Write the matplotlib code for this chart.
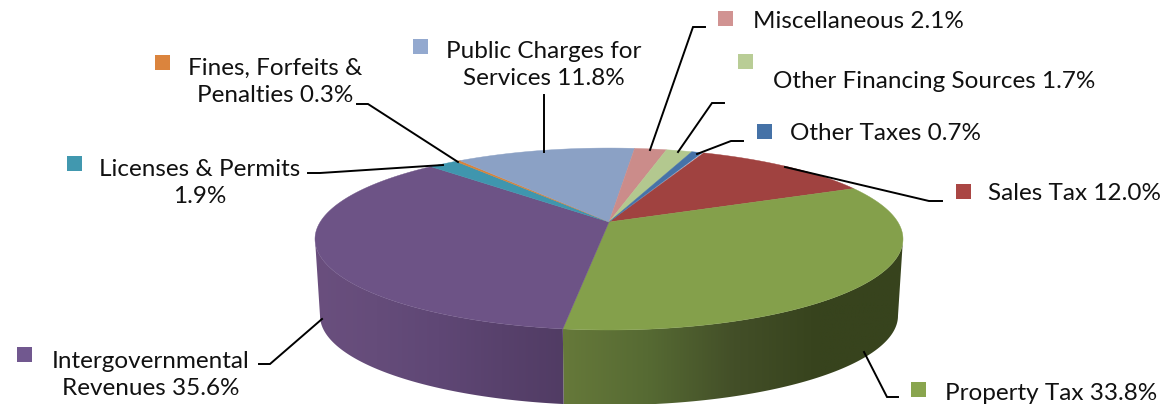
import numpy as np
import matplotlib
matplotlib.use("Agg")
import matplotlib.pyplot as plt
from matplotlib.patches import Polygon, Rectangle
from matplotlib.colors import LinearSegmentedColormap

names = ["Sales Tax", "Property Tax", "Intergovernmental\nRevenues", "Licenses & Permits\n",
         "Fines, Forfeits &\nPenalties", "Public Charges for\nServices", "Miscellaneous",
         "Other Financing Sources", "Other Taxes"]
shares = [12.0, 33.8, 35.6, 1.9, 0.3, 11.8, 2.1, 1.7, 0.7]
top_colors = ["#a04240", "#84a04b", "#6d5386", "#3f96ae", "#d98339", "#8ba1c5", "#cb8c8a", "#b3c88f", "#4672a8"]
key_colors = ["#aa4644", "#89a54e", "#71588f", "#4198af", "#db843d", "#93a9cf", "#d19392", "#b9cd96", "#4572a7"]

# pixel layout of the labels, key squares and leader lines
text_pos = [(1074, 194), (1051, 393), (151, 375), (200, 183), (275, 82), (544, 65), (858, 21), (934, 81), (885, 134)]
key_pos = [(963, 191), (918, 389), (24, 354), (74, 163), (162, 62), (420, 46), (725, 18), (745, 61), (764, 131)]
leaders = [
    [(942, 201), (929, 201), (785, 167)],
    [(898, 397), (887, 397), (864, 352)],
    [(259, 364), (270, 364), (322, 319)],
    [(308, 173), (320, 173), (443, 165)],
    [(357, 104), (368, 104), (458, 162)],
    [(544, 95), (544, 152)],
    [(705, 27), (693, 27), (650, 150)],
    [(724, 103), (712, 103), (678, 152)],
    [(743, 141), (731, 141), (697, 154)],
]

# pie geometry, perspective disc mapped on the picture
CX, CY = 609, 222
A, B, K = 288.8, 87.8, 0.187
DEPTH, BOTTOM_SCALE = 77, 0.983
START = 22.6
# angles where the rim is widest, the wall only shows between them
WALL_FROM = np.degrees(np.arccos(-K))
WALL_TO = 360 - WALL_FROM


def rim(angles, scale=1.0, drop=0.0):
    a = np.radians(angles)
    x, y = np.sin(a), np.cos(a)
    d = 1 + K * y
    return np.column_stack([CX + scale * A * x / d, CY + drop - scale * B * y / d])


fig = plt.figure(figsize=(11.63, 4.04), dpi=100)
ax = fig.add_axes([0, 0, 1, 1])

edges = START + np.cumsum([0] + shares) * 3.6
side_ramps = {
    1: ["#66793a", "#566a33", "#434f28", "#37431d", "#37431d"],
    2: ["#6a4f7e", "#654c7a", "#5f4775", "#58416c", "#513c64"],
}

# outer walls first, top faces go over them
for i, ramp in side_ramps.items():
    ang = np.linspace(max(edges[i], WALL_FROM), min(edges[i + 1], WALL_TO), 200)
    up = rim(ang)
    down = rim(ang, BOTTOM_SCALE, DEPTH)
    wall = Polygon(np.vstack([up, down[::-1]]), closed=True, fc="none", ec="none")
    ax.add_patch(wall)
    cmap = LinearSegmentedColormap.from_list(f"wall{i}", ramp)
    xmin = min(up[:, 0].min(), down[:, 0].min())
    xmax = max(up[:, 0].max(), down[:, 0].max())
    grad = np.linspace(0, 1, 256).reshape(1, -1)
    im = ax.imshow(grad, extent=[xmin, xmax, 410, 200], aspect="auto", cmap=cmap, zorder=1)
    im.set_clip_path(wall)

for i, color in enumerate(top_colors):
    ang = np.linspace(edges[i], edges[i + 1], max(int(shares[i] * 8), 4))
    pts = np.vstack([[CX, CY], rim(ang)])
    ax.add_patch(Polygon(pts, closed=True, fc=color, ec=color, lw=0.3, zorder=2))

for line in leaders:
    xs, ys = zip(*line)
    ax.plot(xs, ys, color="black", lw=1.4, zorder=3, solid_joinstyle="miter")

for name, share, tp, kp, kc in zip(names, shares, text_pos, key_pos, key_colors):
    label = f"{name} {share}%" if not name.endswith("\n") else f"{name}{share}%"
    ax.text(tp[0], tp[1], label, ha="center", va="center", fontsize=17.5, family="Lato",
            color="#111111", linespacing=1.38, zorder=4)
    ax.add_patch(Rectangle((kp[0] - 7.5, kp[1] - 7.5), 15, 15, fc=kc, ec="none", zorder=4))

ax.set_xlim(0, 1163)
ax.set_ylim(404, 0)
ax.axis("off")

plt.savefig("out.png", dpi=100)
plt.close()
